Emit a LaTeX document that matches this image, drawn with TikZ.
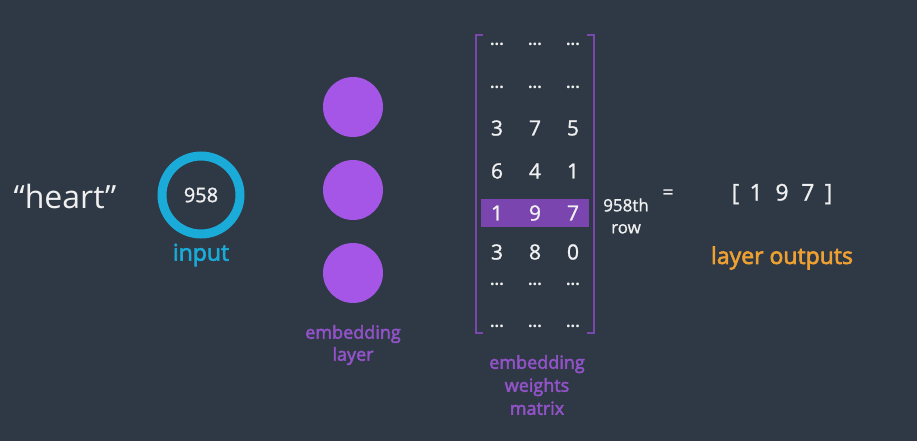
\documentclass[tikz,border=0pt]{standalone}
\usepackage{fontspec}
\setmainfont{Open Sans}
\newfontfamily\semib{Open Sans}[FakeBold=2.6]
\newfontfamily\medw{Open Sans}[FakeBold=1.2]
\usetikzlibrary{calc}
\definecolor{bg}{RGB}{46,57,69}
\definecolor{ringc}{RGB}{26,171,217}
\definecolor{neuron}{RGB}{166,86,230}
\definecolor{lblpurple}{RGB}{146,82,200}
\definecolor{brk}{RGB}{120,72,170}
\definecolor{hl}{RGB}{123,69,176}
\definecolor{outc}{RGB}{238,160,50}
\definecolor{txt}{RGB}{240,240,240}
\tikzset{
  fs/.style={font=\fontsize{#1}{#1}\selectfont},
  sfs/.style={font=\semib\fontsize{#1}{#1}\selectfont},
  mfs/.style={font=\medw\fontsize{#1}{#1}\selectfont},
  num/.style={text=txt, mfs=21, inner sep=0pt},
  dotsn/.style={text=txt, font=\bfseries\fontsize{16}{16}\selectfont, inner sep=0pt},
  neur/.style={circle, fill=neuron, minimum size=60pt, inner sep=0pt},
  brack/.style={draw=brk, line width=2pt},
}
\begin{document}
\begin{tikzpicture}[x=1pt,y=-1pt]
\fill[bg] (0,0) rectangle (917,441);
\useasboundingbox (0,0) rectangle (917,441);
% heart
\node[text=txt, fs=32] (word) at (65,196) {“heart”};
% ring
\node[circle, draw=ringc, line width=9pt, minimum size=78pt, inner sep=0pt] (ring) at (201,195) {};
\node[text=txt, mfs=20] (idx) at (ring.center) {958};
\node[text=ringc, sfs=23] (inlbl) at (201,255) {input};
% neurons
\node[neur] (n1) at (353,107) {};
\node[neur] (n2) at (353,190) {};
\node[neur] (n3) at (353,273) {};
\node[text=lblpurple, align=center, font=\semib\fontsize{18}{22}\selectfont] (emb) at (353,345) {embedding\\layer};
% matrix highlight
\fill[hl] (481,199) rectangle (589,227);
% brackets
\coordinate (lt) at (476,35);
\coordinate (lb) at (476,333);
\coordinate (rt) at (594,35);
\coordinate (rb) at (594,333);
\draw[brack] ($(lt)+(7,0)$) -- (lt) -- (lb) -- ($(lb)+(7,0)$);
\draw[brack] ($(rt)+(-7,0)$) -- (rt) -- (rb) -- ($(rb)+(-7,0)$);
% dots rows
\foreach \y/\n in {44/a,87/b,284/g,326/h}{
  \node[dotsn] (d\n1) at (497,\y) {...};
  \node[dotsn] (d\n2) at (535,\y) {...};
  \node[dotsn] (d\n3) at (573,\y) {...};
}
\foreach \y/\a/\b/\c/\n in {128/3/7/5/c,171/6/4/1/d,213/1/9/7/e,252/3/8/0/f}{
  \node[num] (m\n1) at (497,\y) {\a};
  \node[num] (m\n2) at (535,\y) {\b};
  \node[num] (m\n3) at (573,\y) {\c};
}
\node[text=txt, align=center, font=\medw\fontsize{17}{22}\selectfont] (rowlbl) at (626,216) {958th\\row};
\node[text=txt, mfs=19] (eq) at (668,194) {=};
\node[text=txt, mfs=23] (out) at (782,194) {[\hspace{0.45em}1\hspace{0.55em}9\hspace{0.55em}7\hspace{0.45em}]};
\node[text=outc, sfs=23] (outlbl) at (782,258) {layer outputs};
\node[text=lblpurple, align=center, font=\semib\fontsize{18}{23}\selectfont] (wlbl) at (537,385) {embedding\\weights\\matrix};
\end{tikzpicture}
\end{document}
